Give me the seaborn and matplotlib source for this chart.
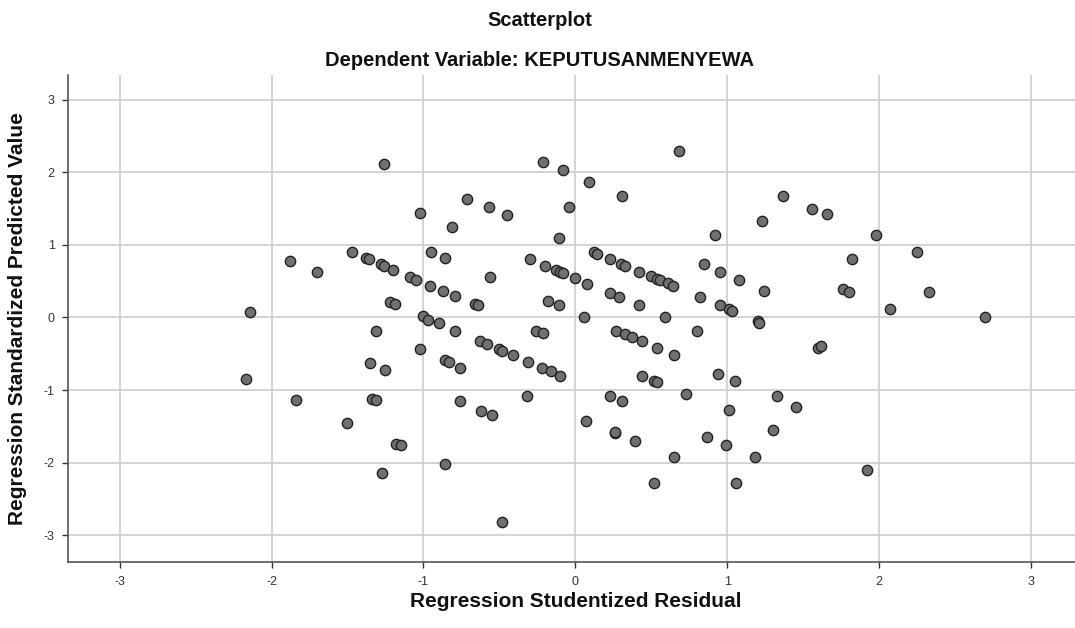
import matplotlib
matplotlib.use("Agg")
import matplotlib.pyplot as plt
import pandas as pd
import seaborn as sns

# studentized residuals (x) and standardized predicted values (y)
residual = [
    -2.14, -2.17, -1.88, -1.84, -1.70, -1.50,
    -1.26, -1.02, -0.95, -1.47, -1.38, -1.36, -1.28, -1.26, -1.20, -1.09,
    -1.05, -0.96, -1.22, -1.19, -1.00, -0.97, -0.90, -1.31, -1.02, -1.35,
    -1.25, -1.34, -1.31, -1.18, -1.15, -1.27,
    -0.21, -0.08, 0.09, 0.31, -0.71, -0.57, -0.45, -0.04, -0.81, -0.11,
    -0.86, -0.30, -0.20, -0.13, -0.10, -0.08, 0.00, 0.08, 0.12, 0.14,
    0.23, 0.30, -0.56, -0.87, -0.79, -0.66, -0.64, -0.18, -0.11, 0.23,
    0.29, 0.06, -0.79, -0.26, -0.21, 0.27, -0.63, -0.58, -0.50, -0.48,
    -0.41, -0.31, -0.22, -0.16, -0.10, -0.86, -0.83, -0.76, -0.76, -0.32,
    -0.62, -0.55, -0.86, -0.48, 0.07, 0.23, 0.26,
    0.68, 1.37, 1.56, 1.23, 0.92, 0.33, 0.42, 0.50, 0.54, 0.56,
    0.61, 0.64, 0.85, 0.95, 1.08, 1.24, 0.42, 0.82, 0.59, 0.95,
    1.01, 1.03, 1.20, 1.21, 0.33, 0.37, 0.44, 0.80, 0.54, 0.65,
    0.44, 0.52, 0.54, 0.94, 1.05, 0.31, 0.73, 1.33, 1.45, 1.01,
    0.26, 0.39, 0.87, 0.99, 1.30, 0.65, 1.18, 0.52, 1.06,
    1.66, 1.98, 1.82, 2.25, 1.76, 1.80, 2.33, 2.07, 2.70, 1.60,
    1.62, 1.92,
]
predicted = [
    0.07, -0.85, 0.78, -1.14, 0.63, -1.46,
    2.12, 1.44, 0.90, 0.90, 0.82, 0.80, 0.73, 0.71, 0.65, 0.56,
    0.51, 0.44, 0.21, 0.19, 0.02, -0.03, -0.08, -0.19, -0.44, -0.63,
    -0.72, -1.12, -1.14, -1.74, -1.76, -2.14,
    2.14, 2.03, 1.87, 1.67, 1.63, 1.52, 1.41, 1.52, 1.25, 1.10,
    0.82, 0.80, 0.71, 0.65, 0.63, 0.61, 0.54, 0.46, 0.90, 0.88,
    0.80, 0.73, 0.56, 0.37, 0.29, 0.19, 0.17, 0.22, 0.17, 0.34,
    0.28, 0.01, -0.18, -0.18, -0.22, -0.18, -0.33, -0.36, -0.44, -0.46,
    -0.52, -0.61, -0.69, -0.74, -0.80, -0.59, -0.61, -0.69, -1.15, -1.08,
    -1.29, -1.35, -2.02, -2.82, -1.42, -1.08, -1.59,
    2.30, 1.68, 1.50, 1.33, 1.14, 0.71, 0.63, 0.57, 0.53, 0.52,
    0.47, 0.44, 0.73, 0.63, 0.52, 0.37, 0.17, 0.28, 0.01, 0.17,
    0.11, 0.09, -0.05, -0.07, -0.23, -0.27, -0.33, -0.18, -0.42, -0.52,
    -0.80, -0.87, -0.89, -0.78, -0.87, -1.15, -1.06, -1.08, -1.23, -1.28,
    -1.58, -1.70, -1.65, -1.76, -1.55, -1.92, -1.92, -2.28, -2.28,
    1.42, 1.14, 0.80, 0.90, 0.39, 0.35, 0.35, 0.11, 0.01, -0.42,
    -0.40, -2.10,
]

ticks = [-3, -2, -1, 0, 1, 2, 3]

df = pd.DataFrame({"residual": residual, "predicted": predicted})

sns.set_theme(style="white")
plt.rcParams["font.family"] = ["Liberation Sans", "DejaVu Sans"]

fig = plt.figure(figsize=(10.75, 6.28), dpi=100)
ax = fig.add_axes([0.0637, 0.105, 0.9363, 0.7755])

sns.scatterplot(
    data=df,
    x="residual",
    y="predicted",
    color="#707070",
    edgecolor="#222222",
    linewidth=1.0,
    s=55,
    ax=ax,
    zorder=3,
)

ax.set_xlim(-3.337, 3.29)
ax.set_ylim(-3.37, 3.34)
ax.set_xticks(ticks)
ax.set_yticks(ticks)
ax.set_xticklabels([str(t) for t in ticks])
ax.set_yticklabels([str(t) for t in ticks])
ax.grid(True, color="#d0d0d0", linewidth=1.3)
ax.set_axisbelow(True)

for side in ["top", "right"]:
    ax.spines[side].set_visible(False)
for side in ["left", "bottom"]:
    ax.spines[side].set_color("#555555")
    ax.spines[side].set_linewidth(1.2)

ax.tick_params(axis="both", labelsize=9, colors="#333333", length=4,
               width=1, direction="out", left=True, bottom=True, pad=6)

ax.set_xlabel("Regression Studentized Residual", fontsize=15,
              fontweight="bold", color="#111111")
ax.set_ylabel("Regression Standardized Predicted Value", fontsize=15,
              fontweight="bold", color="#111111")
ax.xaxis.set_label_coords(0.504, -0.082)
ax.xaxis.label.set_va("center")
ax.yaxis.set_label_coords(-0.0502, 0.5)
ax.yaxis.label.set_va("center")

fig.text(0.502, 1 - 20 / 628, "Scatterplot", ha="center", va="center",
         fontsize=14.5, fontweight="bold", color="#111111")
fig.text(0.502, 1 - 61 / 628, "Dependent Variable: KEPUTUSANMENYEWA",
         ha="center", va="center", fontsize=14.5, fontweight="bold",
         color="#111111")

fig.savefig("out.png", dpi=100)
